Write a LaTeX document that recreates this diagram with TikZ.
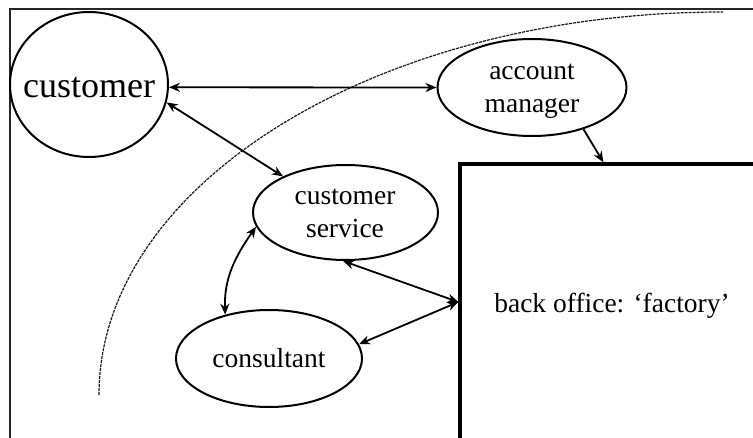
\documentclass[tikz,border=0pt]{standalone}
\usepackage{fontspec}
\setmainfont{Liberation Serif}
\usetikzlibrary{shapes.geometric,arrows.meta}
\begin{document}
\begin{tikzpicture}[x=1pt,y=-1pt,
  bub/.style={ellipse,draw,line width=2pt,inner sep=0pt},
  lbl/.style={font=\fontsize{27.5}{33}\selectfont,align=center,inner sep=0pt},
  conn/.style={line width=1.8pt,{Stealth[length=11pt,width=9pt]}-{Stealth[length=11pt,width=9pt]}},
  oneway/.style={line width=1.8pt,-{Stealth[length=11pt,width=9pt]}},
  frame/.style={line width=2pt,black!85},
  bound/.style={line width=1.2pt,black!90,dash pattern=on 3pt off 1pt}]
\useasboundingbox (0,0) rectangle (753,438);
\clip (0,0) rectangle (753,438);
\fill[white] (0,0) rectangle (753,438);
% outer frame
\draw[frame] (9.5,450) -- (9.5,9) -- (770,9);
% dashed boundary
\draw[bound] (99,395) .. controls (99,183.5) and (378.4,12) .. (723,12);
% back office
\node[draw,line width=3.2pt,minimum width=300pt,minimum height=276pt,inner sep=0pt] (bo) at (610,302) {};
\node[lbl] (botxt) at (612,305.5) {back office: ‘factory’};
% ellipses
\node[bub,minimum width=158pt,minimum height=145pt] (cust) at (89,84.5) {};
\node[inner sep=0pt,font=\fontsize{36}{40}\selectfont] (custtxt) at (89,87.6) {customer};
\node[bub,minimum width=189pt,minimum height=97pt] (am) at (532,87.5) {};
\node[lbl] (amtxt) at (532,91.5) {account\\manager};
\node[bub,minimum width=185pt,minimum height=95pt] (cs) at (345.5,212.5) {};
\node[lbl] (cstxt) at (345,213.5) {customer\\service};
\node[bub,minimum width=186pt,minimum height=97pt] (con) at (269,358.5) {};
\node[lbl] (contxt) at (269,358.5) {consultant};
% connectors
\draw[conn] (cust.-2) -- (am.west);
\draw[conn] (cust.-13) -- (cs.150);
\draw[oneway] (am.-39) -- ([xshift=145pt]bo.north west);
\draw[conn] (cs.189) to[out=235,in=92] (con.135);
\draw[conn] (cs.-93) -- (bo.west);
\draw[conn] (con.9) -- (bo.west);
\end{tikzpicture}
\end{document}
